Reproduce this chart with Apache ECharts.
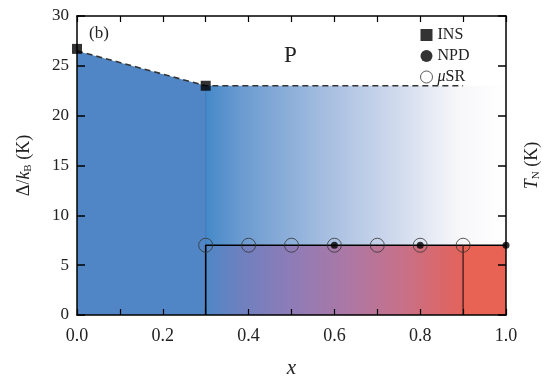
<!DOCTYPE html>
<html>
<head>
<meta charset="utf-8">
<script src="https://cdn.jsdelivr.net/npm/echarts@6/dist/echarts.min.js"></script>
<style>
  html, body { margin: 0; padding: 0; background: #fff; }
  #chart { width: 544px; height: 376px; }
</style>
</head>
<body>
<div id="chart"></div>
<script>
// 数据
const xTicks = [0, 0.2, 0.4, 0.6, 0.8, 1.0];
const yTicks = [0, 5, 10, 15, 20, 25, 30];
const gapLine = [[0, 26.5], [0.3, 23], [0.9, 23]];      // 虚线 Δ/kB
const sBoundary = [[0, 26.5], [0.3, 23]];               // S 区上沿
const fadeTop = [[0.3, 23], [1.0, 23]];                 // 渐变区上沿
const cafTop = [[0.3, 7], [1.0, 7]];                    // S+CAF 区上沿
const pureCafTop = [[0.9, 7], [1.0, 7]];                // CAF 区
const tnLine = [[0.3, 0], [0.3, 7], [1.0, 7]];          // T_N 边界
const cafLine = [[0.9, 0], [0.9, 7]];
const faintLine = [[0.3, 7], [0.3, 23]];
const insData = [[0, 26.7], [0.3, 23]];
const npdData = [[0.6, 7], [0.8, 7], [1.0, 7]];
const musrData = [[0.3, 7], [0.4, 7], [0.5, 7], [0.6, 7], [0.7, 7], [0.8, 7], [0.9, 7]];

const serif = '"Liberation Serif", "DejaVu Serif", serif';

function hGrad(stops) {
    return new echarts.graphic.LinearGradient(0, 0, 1, 0,
        stops.map(s => ({ offset: s[0], color: s[1] })));
}

const axisLine = { show: true, onZero: false, lineStyle: { color: '#000', width: 1.5 } };
const xTick = { show: true, inside: true, length: 6, lineStyle: { color: '#000', width: 1.2 } };
const xMinor = { show: true, splitNumber: 2, length: 6, lineStyle: { color: '#000', width: 1.2 } };
const yTick = { show: true, inside: true, length: 8, lineStyle: { color: '#000', width: 1.5 } };

const chart = echarts.init(document.getElementById('chart'));

const option = {
    animation: false,
    backgroundColor: '#fff',
    textStyle: { fontFamily: serif },
    grid: { left: 77, right: 38, top: 16, bottom: 61, containLabel: false, outerBoundsMode: 'none' },
    xAxis: [{
        type: 'value', min: 0, max: 1, interval: 0.2, z: 10,
        name: 'x', nameLocation: 'middle', nameGap: 43,
        nameTextStyle: { fontFamily: serif, fontStyle: 'italic', fontSize: 21, color: '#222' },
        axisLine: axisLine, axisTick: xTick, minorTick: xMinor,
        axisLabel: { fontFamily: serif, fontSize: 18, color: '#222', margin: 12,
            formatter: v => v.toFixed(1) },
        splitLine: { show: false }
    }, {
        type: 'value', min: 0, max: 1, interval: 0.2, position: 'top', z: 10,
        axisLine: axisLine, axisTick: xTick, minorTick: xMinor,
        axisLabel: { show: false },
        splitLine: { show: false }
    }],
    yAxis: [{
        type: 'value', min: 0, max: 30, interval: 5, z: 10,
        name: '{d|Δ/}{k|k}{b|B}{d| (K)}', nameLocation: 'middle', nameGap: 43, nameRotate: 90,
        nameTextStyle: {
            color: '#222',
            rich: {
                d: { fontFamily: serif, fontSize: 18, color: '#222' },
                k: { fontFamily: serif, fontSize: 18, fontStyle: 'italic', color: '#222' },
                b: { fontFamily: serif, fontSize: 11, color: '#222', verticalAlign: 'bottom', padding: [8, 0, 0, 0] }
            }
        },
        axisLine: axisLine, axisTick: yTick,
        axisLabel: { fontFamily: serif, fontSize: 17, color: '#222', margin: 8 },
        splitLine: { show: false }
    }, {
        type: 'value', min: 0, max: 30, interval: 5, position: 'right', z: 10,
        name: '{t|T}{n|N}{d| (K)}', nameLocation: 'middle', nameGap: 17, nameRotate: 90,
        nameTextStyle: {
            color: '#222',
            rich: {
                t: { fontFamily: serif, fontSize: 18, fontStyle: 'italic', color: '#222' },
                n: { fontFamily: serif, fontSize: 11, color: '#222', padding: [8, 0, 0, 0] },
                d: { fontFamily: serif, fontSize: 18, color: '#222' }
            }
        },
        axisLine: axisLine, axisTick: yTick,
        axisLabel: { show: false },
        splitLine: { show: false }
    }],
    legend: {
        orient: 'vertical', left: 415, top: 22, itemGap: 5,
        itemWidth: 12, itemHeight: 12,
        textStyle: { fontFamily: serif, fontSize: 16, color: '#222',
            rich: { i: { fontFamily: serif, fontSize: 16, fontStyle: 'italic', color: '#222' } } },
        formatter: n => n === 'muSR' ? '{i|μ}SR' : n,
        data: [
            { name: 'INS', icon: 'rect', itemStyle: { color: '#000' } },
            { name: 'NPD', icon: 'circle', itemStyle: { color: '#000' } },
            { name: 'muSR', icon: 'circle', itemStyle: { color: '#fff', borderColor: '#333', borderWidth: 1 } }
        ]
    },
    graphic: [
        { type: 'text', left: 89, top: 25, style: { text: '(b)', font: '17px ' + serif, fill: '#222' } },
        { type: 'text', left: 284, top: 44, style: { text: 'P', font: '23px ' + serif, fill: '#222' } },
        { type: 'text', left: 128, top: 159, style: { text: 'S', font: '23px ' + serif, fill: '#1a1a3a' } },
        { type: 'text', left: 298, top: 264, style: { text: 'S+CAF', font: '20px ' + serif, fill: '#1a1a3a' } },
        { type: 'text', left: 467, top: 267, style: { text: 'CAF', font: '14px ' + serif, fill: '#2a2040' } }
    ],
    series: [
        {   // 渐变区 (S, 0.3 < x)
            type: 'line', data: fadeTop, symbol: 'none', z: 1,
            lineStyle: { width: 0 },
            areaStyle: { opacity: 1, color: hGrad([[0, '#4589c9'], [0.12, '#6b9bd0'], [0.4, '#a6bee0'], [0.62, '#cdd8ec'], [0.84, '#f7f7fa'], [1, '#ffffff']]) }
        },
        {   // S 区
            type: 'line', data: sBoundary, symbol: 'none', z: 2,
            lineStyle: { width: 0 },
            areaStyle: { opacity: 1, color: '#5186c6' }
        },
        {   // S+CAF 区
            type: 'line', data: cafTop, symbol: 'none', z: 3,
            lineStyle: { width: 0 },
            areaStyle: { opacity: 1, color: hGrad([[0, '#4f87c6'], [0.12, '#6f80bf'], [0.28, '#8d7cb7'], [0.46, '#aa78a6'], [0.65, '#c7718a'], [0.85, '#e2635c'], [1, '#e8604f']]) }
        },
        {   // CAF 区
            type: 'line', data: pureCafTop, symbol: 'none', z: 4,
            lineStyle: { width: 0 },
            areaStyle: { opacity: 1, color: '#e86354' }
        },
        {
            type: 'line', data: faintLine, symbol: 'none', z: 5,
            lineStyle: { color: '#3b76b4', width: 1 }
        },
        {
            type: 'line', data: gapLine, symbol: 'none', z: 6,
            lineStyle: { color: '#333', width: 1.6, type: [6, 4] }
        },
        {
            type: 'line', data: tnLine, symbol: 'none', z: 6,
            lineStyle: { color: '#000', width: 1.6 }
        },
        {
            type: 'line', data: cafLine, symbol: 'none', z: 6,
            lineStyle: { color: '#4a2020', width: 1.4 }
        },
        {
            name: 'INS', type: 'scatter', data: insData, symbol: 'rect', symbolSize: 10, z: 8,
            itemStyle: { color: '#000' }
        },
        {
            name: 'NPD', type: 'scatter', data: npdData, symbol: 'circle', symbolSize: 7, z: 8,
            itemStyle: { color: '#000' }
        },
        {
            name: 'muSR', type: 'scatter', data: musrData, symbol: 'circle', symbolSize: 14, z: 7,
            itemStyle: { color: 'rgba(0,0,0,0)', borderColor: '#333', borderWidth: 1 }
        }
    ]
};

chart.setOption(option);
</script>
</body>
</html>
